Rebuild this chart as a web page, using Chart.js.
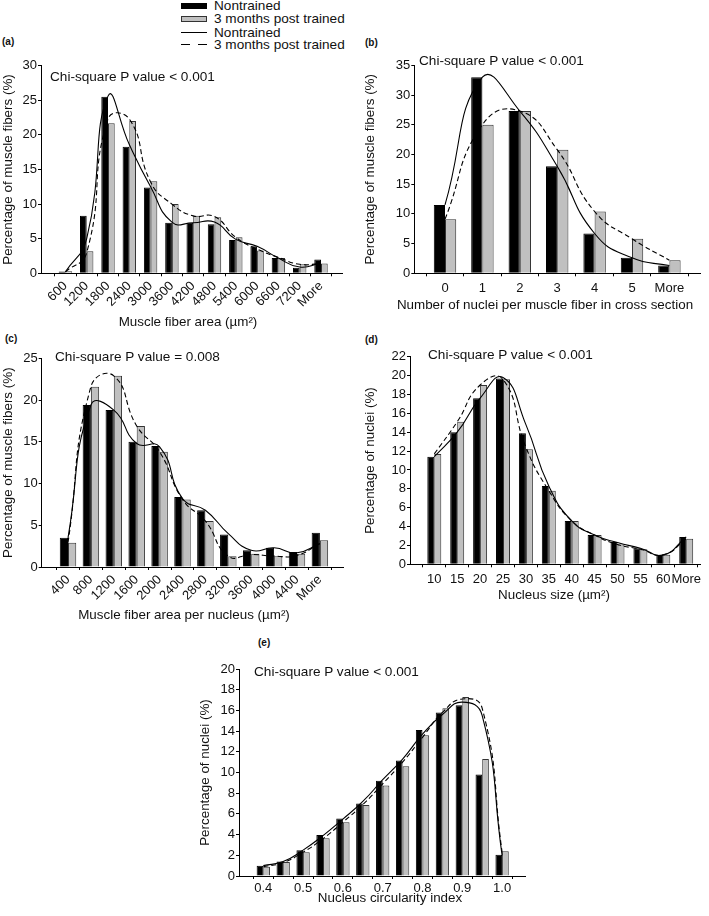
<!DOCTYPE html>
<html><head><meta charset="utf-8">
<script src="https://cdn.jsdelivr.net/npm/chart.js@4.4.1/dist/chart.umd.min.js"></script>
<style>
html,body{margin:0;padding:0;background:#fff;}
body{width:709px;height:916px;position:relative;overflow:hidden;font-family:"Liberation Sans",Arial,Helvetica,sans-serif;color:#111;}
canvas{position:absolute;}
.t{position:absolute;font-size:13.6px;line-height:14px;white-space:nowrap;}
.xt{position:absolute;font-size:13.4px;line-height:14px;white-space:nowrap;width:400px;text-align:center;}
.lbl{position:absolute;font-size:10px;font-weight:bold;line-height:10px;}
.sw{position:absolute;box-sizing:border-box;}
</style></head><body>

<!-- legend -->
<div class="sw" style="left:181px;top:3px;width:26px;height:6px;background:#000;"></div>
<div class="sw" style="left:181px;top:16px;width:26px;height:6px;background:#c0c0c0;border:1px solid #333;"></div>
<div class="sw" style="left:181px;top:32px;width:26px;height:0;border-top:1px solid #000;"></div>
<div class="sw" style="left:181px;top:44px;width:9px;height:0;border-top:1px solid #000;"></div>
<div class="sw" style="left:198px;top:44px;width:9px;height:0;border-top:1px solid #000;"></div>
<div class="t" style="left:214px;top:-1px;">Nontrained</div>
<div class="t" style="left:214px;top:12px;">3 months post trained</div>
<div class="t" style="left:214px;top:26px;">Nontrained</div>
<div class="t" style="left:214px;top:38px;">3 months post trained</div>

<div class="lbl" style="left:2px;top:37px;">(a)</div>
<div class="lbl" style="left:365px;top:38px;">(b)</div>
<div class="lbl" style="left:5px;top:334px;">(c)</div>
<div class="lbl" style="left:365px;top:335px;">(d)</div>
<div class="lbl" style="left:258px;top:638px;">(e)</div>

<canvas id="cA"></canvas>
<canvas id="cB"></canvas>
<canvas id="cC"></canvas>
<canvas id="cD"></canvas>
<canvas id="cE"></canvas>

<div class="t" style="left:50px;top:70px;">Chi-square P value &lt; 0.001</div>
<div class="t" style="left:419px;top:54px;">Chi-square P value &lt; 0.001</div>
<div class="t" style="left:55px;top:350px;">Chi-square P value = 0.008</div>
<div class="t" style="left:428px;top:348px;">Chi-square P value &lt; 0.001</div>
<div class="t" style="left:254px;top:665px;">Chi-square P value &lt; 0.001</div>

<div class="xt" style="left:-12px;top:315px;">Muscle fiber area (µm²)</div>
<div class="xt" style="left:345px;top:298px;">Number of nuclei per muscle fiber in cross section</div>
<div class="xt" style="left:-16px;top:608px;">Muscle fiber area per nucleus (µm²)</div>
<div class="xt" style="left:354px;top:588px;">Nucleus size (µm²)</div>
<div class="xt" style="left:190px;top:891px;">Nucleus circularity index</div>

<script>
// ---------- DATA ----------
// (a) Muscle fiber area
const labelsA = ['600','1200','1800','2400','3000','3600','4200','4800','5400','6000','6600','7200','More'];
const nontrainedA = [0.25, 8.3, 25.5, 18.3, 12.4, 7.3, 7.3, 7.1, 4.8, 3.9, 2.2, 0.8, 2.0];
const postTrainedA = [0.3, 3.2, 21.7, 22.0, 13.3, 10.0, 8.3, 8.1, 5.2, 3.3, 2.2, 1.3, 1.4];
const curveNontrainedA = [0.2, 5.0, 25.6, 18.6, 12.5, 7.4, 7.3, 7.4, 4.9, 3.9, 2.2, 0.9, 1.5];
const curvePostTrainedA = [0.2, 3.0, 22.3, 22.3, 13.2, 10.0, 8.3, 8.2, 5.2, 3.5, 2.3, 1.3, 1.4];

// (b) Number of nuclei per muscle fiber
const labelsB = ['0','1','2','3','4','5','More'];
const nontrainedB = [11.5, 33.0, 27.3, 18.0, 6.7, 2.6, 1.3];
const postTrainedB = [9.1, 25.0, 27.3, 20.8, 10.4, 5.8, 2.2];
const curveNontrainedB = [11.5, 33.0, 27.3, 18.0, 6.7, 2.6, 1.3];
const curvePostTrainedB = [9.1, 25.0, 27.3, 20.8, 10.4, 5.8, 2.2];

// (c) Muscle fiber area per nucleus
const labelsC = ['400','800','1200','1600','2000','2400','2800','3200','3600','4000','4400','More'];
const nontrainedC = [3.5, 19.4, 18.8, 15.0, 14.5, 8.4, 6.8, 3.9, 2.0, 2.3, 1.8, 4.1];
const postTrainedC = [2.9, 21.6, 22.9, 16.9, 13.8, 8.1, 5.5, 1.3, 1.6, 1.3, 1.6, 3.2];
const curveNontrainedC = [3.5, 19.4, 18.8, 14.8, 14.4, 8.2, 6.8, 4.0, 2.0, 2.3, 1.7, 2.8];
const curvePostTrainedC = [2.9, 21.6, 22.9, 16.9, 13.8, 8.1, 5.5, 1.3, 1.5, 1.3, 1.4, 2.8];

// (d) Nucleus size
const labelsD = ['10','15','20','25','30','35','40','45','50','55','60','More'];
const nontrainedD = [11.4, 14.0, 17.6, 19.7, 13.9, 8.3, 4.6, 3.1, 2.35, 1.7, 1.0, 2.9];
const postTrainedD = [11.7, 15.1, 19.0, 19.6, 12.2, 7.8, 4.6, 3.1, 2.1, 1.6, 1.0, 2.7];
const curveNontrainedD = [11.4, 14.0, 17.6, 19.8, 14.8, 8.3, 4.6, 3.1, 2.3, 1.7, 1.0, 2.9];
const curvePostTrainedD = [11.7, 15.1, 19.0, 19.6, 12.4, 7.8, 4.6, 3.1, 2.1, 1.6, 1.0, 2.7];

// (e) Nucleus circularity index
const labelsE = ['0.4','','0.5','','0.6','','0.7','','0.8','','0.9','','1.0'];
const nontrainedE = [1.0, 1.4, 2.5, 3.95, 5.55, 7.0, 9.2, 11.15, 14.1, 15.8, 16.5, 9.8, 2.05];
const postTrainedE = [0.9, 1.35, 2.3, 3.65, 5.2, 6.85, 8.75, 10.6, 13.6, 16.2, 17.3, 11.3, 2.4];
const curveNontrainedE = [1.0, 1.4, 2.5, 3.9, 5.5, 7.2, 9.3, 11.3, 13.7, 15.6, 16.8, 15.5, 2.0];
const curvePostTrainedE = [0.9, 1.3, 2.3, 3.6, 5.2, 6.9, 8.9, 11.0, 13.4, 15.8, 17.1, 16.2, 2.3];

// ---------- CHARTS ----------
const FAMILY = "'Liberation Sans', Arial, Helvetica, sans-serif";
Chart.defaults.font.family = FAMILY;
Chart.defaults.font.size = 13;
Chart.defaults.color = '#111';

function pts(arr){ return arr.map((v,i)=>({x:i, y:v})); }

function makePanel(id, g, labels, nonBars, postBars, nonCurve, postCurve, yTitle, yMax, yStep){
  const cv = document.getElementById(id);
  cv.width = g.cw; cv.height = g.ch;
  cv.style.left = g.cx + 'px'; cv.style.top = g.cy + 'px';
  const xmin = (g.L - g.c0) / g.step;
  const xmax = (g.R - g.c0) / g.step;
  const barCommon = {type:'bar', order:2, borderWidth:1, categoryPercentage:g.cp, barPercentage:1.0};
  const lineCommon = {type:'line', order:0, borderColor:'#000', borderWidth:1.1, pointRadius:0, tension:0.5, fill:false};
  new Chart(cv, {
    type:'bar',
    data:{datasets:[
      Object.assign({label:'Nontrained', data:pts(nonBars), backgroundColor:'#000', borderColor:'#000'}, barCommon),
      Object.assign({label:'3 months post trained', data:pts(postBars), backgroundColor:'#c0c0c0', borderColor:'#333'}, barCommon),
      Object.assign({label:'Nontrained', data:pts(nonCurve)}, lineCommon),
      Object.assign({label:'3 months post trained', data:pts(postCurve), borderDash:[5,3]}, lineCommon)
    ]},
    options:{
      responsive:false, animation:false, events:[],
      layout:{padding:{left:0, top:g.T - g.cy, right:g.cx + g.cw - g.R, bottom:0}},
      plugins:{legend:{display:false}, tooltip:{enabled:false}},
      scales:{
        x:{
          type:'linear', min:xmin, max:xmax, offset:false,
          grid:{display:true, drawOnChartArea:false, drawTicks:true, tickLength:3, color:'#000'},
          border:{display:true, color:'#000', width:1},
          afterBuildTicks:(s)=>{ s.ticks = labels.map((l,i)=>({value:i})); },
          afterFit:(s)=>{ s.height = g.cy + g.ch - g.B; },
          ticks:{autoSkip:false, maxRotation:g.rot, minRotation:g.rot, padding:g.tpad,
                 font:{size:13}, color:'#111',
                 callback:(v)=> (labels[v] !== undefined ? labels[v] : '')}
        },
        y:{
          min:0, max:yMax,
          grid:{display:true, drawOnChartArea:false, drawTicks:true, tickLength:3, color:'#000'},
          border:{display:true, color:'#000', width:1},
          afterFit:(s)=>{ s.width = g.L - g.cx; },
          ticks:{stepSize:yStep, padding:1, font:{size:13}, color:'#111'},
          title:{display:true, text:yTitle, font:{size:13.4}, color:'#111', padding:{top:0, bottom:0}}
        }
      }
    }
  });
}

makePanel('cA', {cx:0, cy:50, cw:350, ch:280, L:41, R:342, T:65.7, B:273.3, c0:65.4, step:21.3, cp:0.63, rot:45, tpad:2},
  labelsA, nontrainedA, postTrainedA, curveNontrainedA, curvePostTrainedA, 'Percentage of muscle fibers (%)', 30, 5);
makePanel('cB', {cx:362, cy:50, cw:347, ch:263, L:414.3, R:700, T:65.3, B:273.3, c0:445, step:37.4, cp:0.6, rot:0, tpad:4},
  labelsB, nontrainedB, postTrainedB, curveNontrainedB, curvePostTrainedB, 'Percentage of muscle fibers (%)', 35, 5);
makePanel('cC', {cx:0, cy:345, cw:350, ch:278, L:41.7, R:343.3, T:358.3, B:567, c0:68, step:22.9, cp:0.72, rot:45, tpad:2},
  labelsC, nontrainedC, postTrainedC, curveNontrainedC, curvePostTrainedC, 'Percentage of muscle fibers (%)', 25, 5);
makePanel('cD', {cx:362, cy:345, cw:347, ch:258, L:410, R:700, T:356.7, B:564.3, c0:434.3, step:22.9, cp:0.61, rot:0, tpad:4},
  labelsD, nontrainedD, postTrainedD, curveNontrainedD, curvePostTrainedD, 'Percentage of nuclei (%)', 22, 2);
makePanel('cE', {cx:197, cy:655, cw:340, ch:251, L:239, R:525, T:669, B:876, c0:263.3, step:19.9, cp:0.67, rot:0, tpad:2},
  labelsE, nontrainedE, postTrainedE, curveNontrainedE, curvePostTrainedE, 'Percentage of nuclei (%)', 20, 2);
</script>
</body></html>
